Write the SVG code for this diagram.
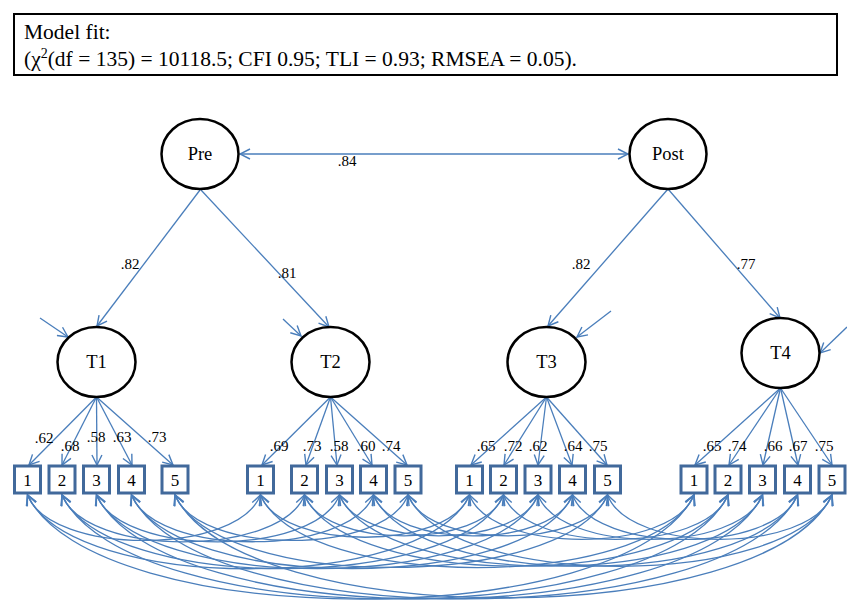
<svg xmlns="http://www.w3.org/2000/svg" width="847" height="601" viewBox="0 0 847 601">
<defs>
<style>
.lat{fill:#fff;stroke:#000;stroke-width:2.5}
.box{fill:#fff;stroke:#41699b;stroke-width:3}
.ln{fill:none;stroke:#4a7ebb;stroke-width:1.3}
.arr{marker-end:url(#ah)}
.dbl{marker-start:url(#ah);marker-end:url(#ah)}
.t{font-family:"Liberation Serif","Times New Roman",Times,serif;fill:#000}
.lt{font-size:18.5px;text-anchor:middle}
.bt{font-size:17px;text-anchor:middle}
.wt{font-size:15px;text-anchor:middle}
.hd{font-size:21.5px}
</style>
<marker id="ah" viewBox="0 0 12 12" refX="11" refY="6" markerWidth="12" markerHeight="12" orient="auto-start-reverse" markerUnits="userSpaceOnUse">
<path d="M1,1 L11,6 L1,11" fill="none" stroke="#4a7ebb" stroke-width="1.4"/>
</marker>
</defs>
<rect width="847" height="601" fill="#fff"/>

<g id="header">
<rect x="14" y="14" width="823" height="61" fill="#fff" stroke="#000" stroke-width="2"/>
<text class="t hd" x="24" y="39">Model fit:</text>
<text class="t hd" x="24" y="66">(χ<tspan dy="-8" font-size="14">2</tspan><tspan dy="8">(df = 135) = 10118.5; CFI 0.95; TLI = 0.93; RMSEA = 0.05).</tspan></text>
</g>

<g id="connectors">
<line class="ln dbl" x1="240" y1="154" x2="628" y2="154"/>
<line class="ln arr" x1="200" y1="190" x2="97" y2="326"/>
<line class="ln arr" x1="201" y1="190" x2="329" y2="327"/>
<line class="ln arr" x1="668" y1="189" x2="548" y2="326"/>
<line class="ln arr" x1="668" y1="189" x2="780" y2="318"/>
<line class="ln arr" x1="40" y1="318" x2="68" y2="337"/>
<line class="ln arr" x1="283" y1="319" x2="301" y2="336"/>
<line class="ln arr" x1="611" y1="311" x2="577" y2="337"/>
<line class="ln arr" x1="847" y1="327" x2="820" y2="353"/>
<line class="ln arr" x1="96.5" y1="397" x2="29" y2="465"/>
<line class="ln arr" x1="96.5" y1="397" x2="62" y2="465"/>
<line class="ln arr" x1="96.5" y1="397" x2="97" y2="465"/>
<line class="ln arr" x1="96.5" y1="397" x2="132" y2="465"/>
<line class="ln arr" x1="96.5" y1="397" x2="173" y2="465"/>
<line class="ln arr" x1="330.5" y1="397" x2="262" y2="465"/>
<line class="ln arr" x1="330.5" y1="397" x2="306" y2="465"/>
<line class="ln arr" x1="330.5" y1="397" x2="337" y2="465"/>
<line class="ln arr" x1="330.5" y1="397" x2="372" y2="465"/>
<line class="ln arr" x1="330.5" y1="397" x2="407" y2="465"/>
<line class="ln arr" x1="546.5" y1="397" x2="471" y2="465"/>
<line class="ln arr" x1="546.5" y1="397" x2="504" y2="465"/>
<line class="ln arr" x1="546.5" y1="397" x2="538" y2="465"/>
<line class="ln arr" x1="546.5" y1="397" x2="572" y2="465"/>
<line class="ln arr" x1="546.5" y1="397" x2="607" y2="465"/>
<line class="ln arr" x1="780.5" y1="388" x2="695" y2="465"/>
<line class="ln arr" x1="780.5" y1="388" x2="729" y2="465"/>
<line class="ln arr" x1="780.5" y1="388" x2="763" y2="465"/>
<line class="ln arr" x1="780.5" y1="388" x2="798" y2="465"/>
<line class="ln arr" x1="780.5" y1="388" x2="832" y2="465"/>

<path class="ln dbl" d="M27.5,495 C50.8,555.6 237.2,555.6 260.5,495"/>
<path class="ln dbl" d="M27.5,495 C71.7,593.3 425.3,593.3 469.5,495"/>
<path class="ln dbl" d="M27.5,495 C94.2,633.7 627.3,633.7 694,495"/>
<path class="ln dbl" d="M260.5,495 C281.4,551.3 448.6,551.3 469.5,495"/>
<path class="ln dbl" d="M260.5,495 C303.9,591.7 650.6,591.7 694,495"/>
<path class="ln dbl" d="M469.5,495 C492,554.1 671.5,554.1 694,495"/>

<path class="ln dbl" d="M62,495 C86.3,557.4 280.2,557.4 304.5,495"/>
<path class="ln dbl" d="M62,495 C106.2,593.2 459.3,593.2 503.5,495"/>
<path class="ln dbl" d="M62,495 C128.6,633.6 661.4,633.6 728,495"/>
<path class="ln dbl" d="M304.5,495 C324.4,549.5 483.6,549.5 503.5,495"/>
<path class="ln dbl" d="M304.5,495 C346.9,589.9 685.6,589.9 728,495"/>
<path class="ln dbl" d="M503.5,495 C526,554.1 705.5,554.1 728,495"/>

<path class="ln dbl" d="M96.5,495 C120.8,557.4 315.2,557.4 339.5,495"/>
<path class="ln dbl" d="M96.5,495 C140.7,593.2 493.8,593.2 538,495"/>
<path class="ln dbl" d="M96.5,495 C163.1,633.6 695.9,633.6 762.5,495"/>
<path class="ln dbl" d="M339.5,495 C359.4,549.4 518.1,549.4 538,495"/>
<path class="ln dbl" d="M339.5,495 C381.8,589.8 720.2,589.8 762.5,495"/>
<path class="ln dbl" d="M538,495 C560.5,554.1 740,554.1 762.5,495"/>

<path class="ln dbl" d="M131.5,495 C155.7,557.3 349.3,557.3 373.5,495"/>
<path class="ln dbl" d="M131.5,495 C175.6,593.1 528.4,593.1 572.5,495"/>
<path class="ln dbl" d="M131.5,495 C198.1,633.6 730.9,633.6 797.5,495"/>
<path class="ln dbl" d="M373.5,495 C393.4,549.5 552.6,549.5 572.5,495"/>
<path class="ln dbl" d="M373.5,495 C415.9,590 755.1,590 797.5,495"/>
<path class="ln dbl" d="M572.5,495 C595,554.2 775,554.2 797.5,495"/>

<path class="ln dbl" d="M175,495 C198.3,555.6 384.7,555.6 408,495"/>
<path class="ln dbl" d="M175,495 C218.3,591.6 564.2,591.6 607.5,495"/>
<path class="ln dbl" d="M175,495 C240.7,632 766.3,632 832,495"/>
<path class="ln dbl" d="M408,495 C428,549.6 587.5,549.6 607.5,495"/>
<path class="ln dbl" d="M408,495 C450.4,590 789.6,590 832,495"/>
<path class="ln dbl" d="M607.5,495 C630,554.1 809.5,554.1 832,495"/>

<text class="t wt" x="347" y="166">.84</text>
<text class="t wt" x="130" y="269">.82</text>
<text class="t wt" x="287" y="278">.81</text>
<text class="t wt" x="581" y="269">.82</text>
<text class="t wt" x="746" y="269">.77</text>

<text class="t wt" x="44" y="443">.62</text>
<text class="t wt" x="70" y="451">.68</text>
<text class="t wt" x="96" y="442">.58</text>
<text class="t wt" x="122" y="442">.63</text>
<text class="t wt" x="157" y="442">.73</text>

<text class="t wt" x="279" y="451">.69</text>
<text class="t wt" x="312" y="451">.73</text>
<text class="t wt" x="339" y="451">.58</text>
<text class="t wt" x="366" y="451">.60</text>
<text class="t wt" x="391" y="451">.74</text>

<text class="t wt" x="486" y="451">.65</text>
<text class="t wt" x="513" y="451">.72</text>
<text class="t wt" x="538" y="451">.62</text>
<text class="t wt" x="573" y="451">.64</text>
<text class="t wt" x="598" y="451">.75</text>

<text class="t wt" x="712" y="451">.65</text>
<text class="t wt" x="737" y="451">.74</text>
<text class="t wt" x="773" y="451">.66</text>
<text class="t wt" x="798" y="451">.67</text>
<text class="t wt" x="824" y="451">.75</text>
</g>

<g id="Pre"><ellipse class="lat" cx="200" cy="154" rx="38.5" ry="35"/><text class="t lt" x="200" y="160">Pre</text></g>
<g id="Post"><ellipse class="lat" cx="668" cy="154" rx="38.5" ry="35"/><text class="t lt" x="668" y="160">Post</text></g>
<g id="T1"><ellipse class="lat" cx="96.5" cy="362" rx="39" ry="35"/><text class="t lt" x="96.5" y="368">T1</text></g>
<g id="T2"><ellipse class="lat" cx="330.5" cy="362" rx="39" ry="35"/><text class="t lt" x="330.5" y="368">T2</text></g>
<g id="T3"><ellipse class="lat" cx="546.5" cy="362" rx="39" ry="35"/><text class="t lt" x="546.5" y="368">T3</text></g>
<g id="T4"><ellipse class="lat" cx="780.5" cy="353" rx="39" ry="35"/><text class="t lt" x="780.5" y="359">T4</text></g>

<g id="T1_1"><rect class="box" x="14.5" y="466" width="26" height="27"/><text class="t bt" x="27.5" y="485.5">1</text></g>
<g id="T1_2"><rect class="box" x="49" y="466" width="26" height="27"/><text class="t bt" x="62" y="485.5">2</text></g>
<g id="T1_3"><rect class="box" x="83.5" y="466" width="26" height="27"/><text class="t bt" x="96.5" y="485.5">3</text></g>
<g id="T1_4"><rect class="box" x="118.5" y="466" width="26" height="27"/><text class="t bt" x="131.5" y="485.5">4</text></g>
<g id="T1_5"><rect class="box" x="162" y="466" width="26" height="27"/><text class="t bt" x="175" y="485.5">5</text></g>

<g id="T2_1"><rect class="box" x="247.5" y="466" width="26" height="27"/><text class="t bt" x="260.5" y="485.5">1</text></g>
<g id="T2_2"><rect class="box" x="291.5" y="466" width="26" height="27"/><text class="t bt" x="304.5" y="485.5">2</text></g>
<g id="T2_3"><rect class="box" x="326.5" y="466" width="26" height="27"/><text class="t bt" x="339.5" y="485.5">3</text></g>
<g id="T2_4"><rect class="box" x="360.5" y="466" width="26" height="27"/><text class="t bt" x="373.5" y="485.5">4</text></g>
<g id="T2_5"><rect class="box" x="395" y="466" width="26" height="27"/><text class="t bt" x="408" y="485.5">5</text></g>

<g id="T3_1"><rect class="box" x="456.5" y="466" width="26" height="27"/><text class="t bt" x="469.5" y="485.5">1</text></g>
<g id="T3_2"><rect class="box" x="490.5" y="466" width="26" height="27"/><text class="t bt" x="503.5" y="485.5">2</text></g>
<g id="T3_3"><rect class="box" x="525" y="466" width="26" height="27"/><text class="t bt" x="538" y="485.5">3</text></g>
<g id="T3_4"><rect class="box" x="559.5" y="466" width="26" height="27"/><text class="t bt" x="572.5" y="485.5">4</text></g>
<g id="T3_5"><rect class="box" x="594.5" y="466" width="26" height="27"/><text class="t bt" x="607.5" y="485.5">5</text></g>

<g id="T4_1"><rect class="box" x="681" y="466" width="26" height="27"/><text class="t bt" x="694" y="485.5">1</text></g>
<g id="T4_2"><rect class="box" x="715" y="466" width="26" height="27"/><text class="t bt" x="728" y="485.5">2</text></g>
<g id="T4_3"><rect class="box" x="749.5" y="466" width="26" height="27"/><text class="t bt" x="762.5" y="485.5">3</text></g>
<g id="T4_4"><rect class="box" x="784.5" y="466" width="26" height="27"/><text class="t bt" x="797.5" y="485.5">4</text></g>
<g id="T4_5"><rect class="box" x="819" y="466" width="26" height="27"/><text class="t bt" x="832" y="485.5">5</text></g>
</svg>
